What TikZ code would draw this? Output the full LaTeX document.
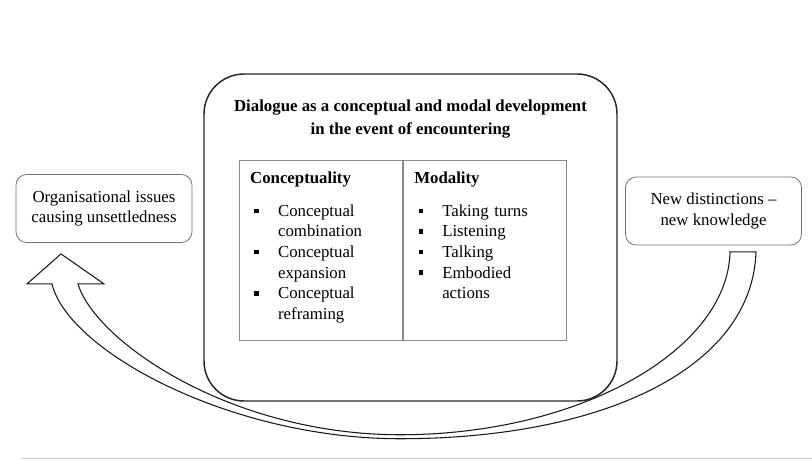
\documentclass[tikz,border=0pt]{standalone}
\usepackage{fontspec}
\setmainfont{Liberation Serif}
\usetikzlibrary{positioning, calc}

\newcommand{\bitem}[1]{\par\hangindent=21pt\hangafter=1\noindent\makebox[21pt][l]{\hspace{3.2pt}\rule[2.3pt]{3.6pt}{3.6pt}}#1}

\begin{document}
\begin{tikzpicture}[
  x=0.75pt, y=-0.75pt,
  font=\fontsize{12.6}{15.4}\selectfont,
  bigbox/.style={
    rectangle, rounded corners=30pt,
    draw=black!85, line width=1.1pt,
    minimum width=309.75pt, minimum height=245.25pt
  },
  sidebox/.style={
    rectangle, rounded corners=8pt,
    draw=black!55, line width=0.6pt,
    minimum width=132pt, minimum height=51pt, align=center
  },
  titletext/.style={align=center, font=\fontsize{12.6}{17.2}\selectfont\bfseries},
  cell/.style={
    rectangle, draw=black!45, line width=0.6pt,
    minimum width=122.5pt, minimum height=135pt, inner sep=0pt
  },
  celltext/.style={
    text width=100pt, align=left, inner xsep=8.25pt, inner ysep=9pt
  },
  blockarrow/.style={draw=black!90, line width=0.8pt, fill=white}
]
\useasboundingbox (0,0) rectangle (812,460);

%% Central box with title and two columns
\node[bigbox] (dlg) at (410.5,237.5) {};
\node[titletext] (ttl) at ($(dlg.north)+(0,46)$)
  {Dialogue as a conceptual and modal development\\in the event of encountering};

\node[cell, anchor=north east] (cpt) at (403,160) {};
\node[cell, anchor=north west] (mod) at (cpt.north east) {};

\node[celltext, anchor=north west] (cptlist) at (cpt.north west) {%
  \textbf{Conceptuality}\par\vspace{9pt}
  \bitem{Conceptual\newline combination}
  \bitem{Conceptual\newline expansion}
  \bitem{Conceptual\newline reframing}\par};
\node[celltext, anchor=north west] (modlist) at (mod.north west) {%
  \textbf{Modality}\par\vspace{9pt}
  \bitem{Taking turns}
  \bitem{Listening}
  \bitem{Talking}
  \bitem{Embodied\newline actions}\par};

%% Side boxes
\node[sidebox] (issues) at (104,208.5) {Organisational issues\\causing unsettledness};
\node[sidebox] (newk)   at (713.5,211) {New distinctions --\\new knowledge};

%% Curved block arrow from right box back to left box
\coordinate (tail) at ($(newk.south)+(29.5,6.5)$);
\coordinate (tip)  at ($(issues.south)+(-43,11)$);
\coordinate (low)  at ($(dlg.south)+(-10.5,35)$);
\draw[blockarrow] ($(tail)+(-13,0)$) -- ($(tail)+(13,0)$)
  .. controls ($(tail)+(9,118)$) and ($(low)+(200,2)$) .. ($(low)+(0,2)$)
  .. controls ($(low)+(-170,2)$) and ($(tip)+(7,97)$) .. ($(tip)+(-9,30)$)
  -- ($(tip)+(-34,30)$) -- (tip) -- ($(tip)+(43,30)$) -- ($(tip)+(17,30)$)
  .. controls ($(tip)+(34,87)$) and ($(low)+(-170,-2)$) .. ($(low)+(0,-2)$)
  .. controls ($(low)+(180,-2)$) and ($(tail)+(-15,98)$) .. ($(tail)+(-13,0)$)
  -- cycle;

%% Rule at the bottom
\coordinate (rulel) at (22,458.5);
\coordinate (ruler) at (812,458.5);
\draw[black!20, line width=0.9pt] (rulel) -- (ruler);

\end{tikzpicture}
\end{document}
